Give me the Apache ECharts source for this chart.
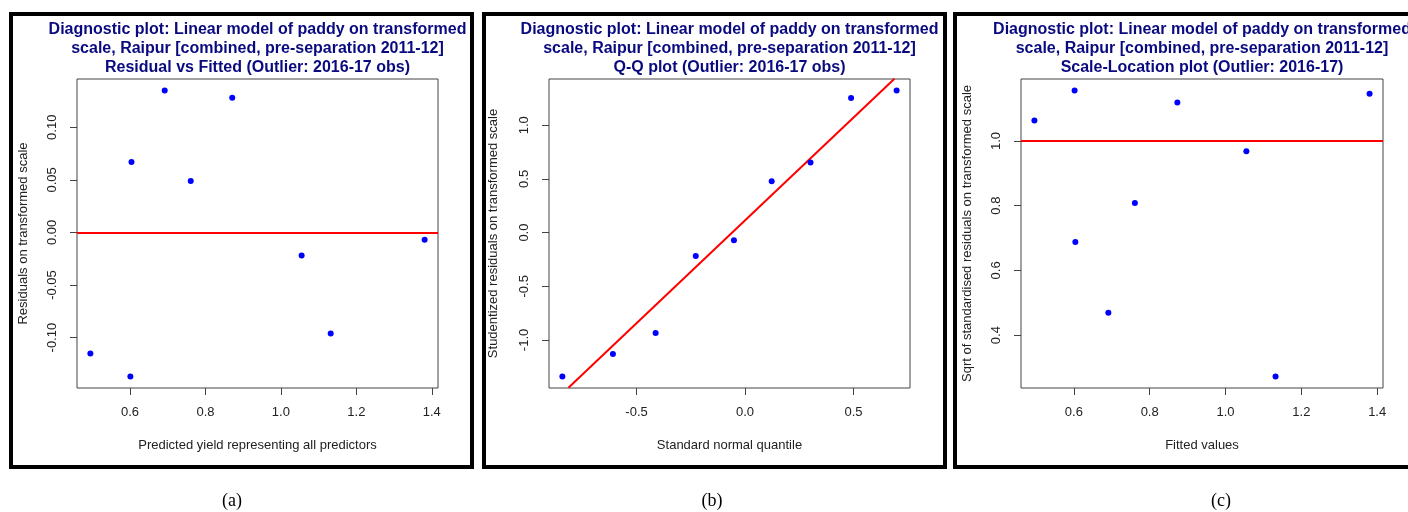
<!DOCTYPE html>
<html>
<head>
<meta charset="utf-8">
<script src="https://cdn.jsdelivr.net/npm/echarts@6/dist/echarts.min.js"></script>
<style>
  html, body { margin: 0; padding: 0; background: #fff; }
  #chart { width: 1408px; height: 512px; }
</style>
</head>
<body>
<div id="chart"></div>
<script>
// ---------- Data ----------
// (a) Residual vs Fitted
const fittedA   = [0.495, 0.604, 0.601, 0.692, 0.761, 0.871, 1.055, 1.132, 1.381];
const residualA = [-0.115, 0.067, -0.137, 0.135, 0.049, 0.128, -0.022, -0.096, -0.007];
// (b) Q-Q plot
const quantileB = [-0.842, -0.609, -0.412, -0.227, -0.051, 0.123, 0.302, 0.489, 0.699];
const studResB  = [-1.341, -1.130, -0.935, -0.217, -0.072, 0.479, 0.653, 1.253, 1.324];
const qqLineX   = [-0.814, 0.689];
const qqLineY   = [-1.446, 1.433];
// (c) Scale-Location
const fittedC   = [0.496, 0.604, 0.602, 0.691, 0.761, 0.873, 1.055, 1.132, 1.380];
const sqrtResC  = [1.063, 0.688, 1.156, 0.469, 0.808, 1.119, 0.968, 0.272, 1.146];
const refLineA  = 0;
const refLineC  = 1.0;

// Tick labels
const ticksAX = [0.6, 0.8, 1.0, 1.2, 1.4];
const ticksAY = [-0.10, -0.05, 0.00, 0.05, 0.10];
const ticksBX = [-0.5, 0.0, 0.5];
const ticksBY = [-1.0, -0.5, 0.0, 0.5, 1.0];
const ticksCX = [0.6, 0.8, 1.0, 1.2, 1.4];
const ticksCY = [0.4, 0.6, 0.8, 1.0];

// Texts
const titlesA = ['Diagnostic plot: Linear model of paddy on transformed',
                 'scale, Raipur [combined, pre-separation 2011-12]',
                 'Residual vs Fitted (Outlier: 2016-17 obs)'];
const titlesB = ['Diagnostic plot: Linear model of paddy on transformed',
                 'scale, Raipur [combined, pre-separation 2011-12]',
                 'Q-Q plot (Outlier: 2016-17 obs)'];
const titlesC = ['Diagnostic plot: Linear model of paddy on transformed',
                 'scale, Raipur [combined, pre-separation 2011-12]',
                 'Scale-Location plot (Outlier: 2016-17)'];
const xNames = ['Predicted yield representing all predictors', 'Standard normal quantile', 'Fitted values'];
const yNames = ['Residuals on transformed scale', 'Studentized residuals on transformed scale',
                'Sqrt of standardised residuals on transformed scale'];
const subLabels = ['(a)', '(b)', '(c)'];

// ---------- Build chart ----------
const FONT = 'Liberation Sans, Arial, sans-serif';
const TXT = '#222';
const zip = (xs, ys) => xs.map((x, i) => [x, ys[i]]);
// R-style axis range: data range extended by 4% each side
function rRange(arr) {
  const lo = Math.min(...arr), hi = Math.max(...arr);
  const d = (hi - lo) * 0.04;
  return [lo - d, hi + d];
}

const grids = [
  { left: 77,  top: 79, width: 361, height: 309 },
  { left: 549, top: 79, width: 361, height: 309 },
  { left: 1021, top: 79, width: 362, height: 309 }
];
const plotCenters = grids.map(g => g.left + g.width / 2);

function xAxis(gi, range, ticks, dec, name, gap) {
  return {
    type: 'value', gridIndex: gi, min: range[0], max: range[1], position: 'bottom',
    name: name, nameLocation: 'middle', nameGap: gap,
    nameTextStyle: { fontFamily: FONT, fontSize: 13, color: TXT },
    axisLine: { show: false, onZero: false },
    axisTick: { show: true, length: 7, customValues: ticks, lineStyle: { color: '#444', width: 1 } },
    axisLabel: { customValues: ticks, formatter: v => v.toFixed(dec), margin: 18,
                 fontFamily: FONT, fontSize: 13, color: TXT },
    splitLine: { show: false }
  };
}
function yAxis(gi, range, ticks, dec, name, gap) {
  return {
    type: 'value', gridIndex: gi, min: range[0], max: range[1], position: 'left',
    name: name, nameLocation: 'middle', nameGap: gap, nameRotate: 90,
    nameTextStyle: { fontFamily: FONT, fontSize: 13, color: TXT },
    axisLine: { show: false, onZero: false },
    axisTick: { show: true, length: 7, customValues: ticks, lineStyle: { color: '#444', width: 1 } },
    axisLabel: { customValues: ticks, formatter: v => v.toFixed(dec), margin: 18, rotate: 90,
                 fontFamily: FONT, fontSize: 13, color: TXT },
    splitLine: { show: false }
  };
}

const rangeAX = rRange(fittedA), rangeAY = rRange(residualA);
const rangeBX = rRange(quantileB), rangeBY = rRange(studResB);
const rangeCX = rRange(fittedC), rangeCY = rRange(sqrtResC);

const pointStyle = { type: 'scatter', symbol: 'circle', symbolSize: 6,
                     itemStyle: { color: '#0000FF', opacity: 1 }, z: 3 };
const redLine = { color: '#FF0000', width: 2, type: 'solid', opacity: 1 };

function titleGraphic(lines, cx) {
  return {
    type: 'text', x: cx, y: 20, z: 10,
    style: { text: lines.join('\n'), fill: '#0a0a80', align: 'center', verticalAlign: 'top',
             font: 'bold 16px ' + FONT, lineHeight: 19 }
  };
}
function panelBorder(x0, x1) {
  return { type: 'rect', z: 20, shape: { x: x0, y: 14, width: x1 - x0, height: 453 },
           style: { fill: 'none', stroke: '#000', lineWidth: 4 } };
}
function subLabel(t, cx) {
  return { type: 'text', x: cx, y: 501, z: 10,
           style: { text: t, fill: '#000', align: 'center', verticalAlign: 'middle',
                    font: '18px Liberation Serif, Times New Roman, serif' } };
}

const option = {
  animation: false,
  backgroundColor: '#fff',
  grid: grids.map(g => Object.assign({ show: true, borderColor: '#444', borderWidth: 1,
                                       backgroundColor: 'transparent' }, g)),
  xAxis: [
    xAxis(0, rangeAX, ticksAX, 1, xNames[0], 51),
    xAxis(1, rangeBX, ticksBX, 1, xNames[1], 51),
    xAxis(2, rangeCX, ticksCX, 1, xNames[2], 51)
  ],
  yAxis: [
    yAxis(0, rangeAY, ticksAY, 2, yNames[0], 47),
    yAxis(1, rangeBY, ticksBY, 1, yNames[1], 49),
    yAxis(2, rangeCY, ticksCY, 1, yNames[2], 47)
  ],
  series: [
    Object.assign({}, pointStyle, { xAxisIndex: 0, yAxisIndex: 0, data: zip(fittedA, residualA),
      markLine: { silent: true, symbol: ['none', 'none'], label: { show: false },
                  lineStyle: redLine, data: [{ yAxis: refLineA }] } }),
    { type: 'line', xAxisIndex: 1, yAxisIndex: 1, data: zip(qqLineX, qqLineY),
      showSymbol: false, symbol: 'none', lineStyle: redLine, z: 2 },
    Object.assign({}, pointStyle, { xAxisIndex: 1, yAxisIndex: 1, data: zip(quantileB, studResB) }),
    Object.assign({}, pointStyle, { xAxisIndex: 2, yAxisIndex: 2, data: zip(fittedC, sqrtResC),
      markLine: { silent: true, symbol: ['none', 'none'], label: { show: false },
                  lineStyle: redLine, data: [{ yAxis: refLineC }] } })
  ],
  graphic: [
    titleGraphic(titlesA, plotCenters[0]),
    titleGraphic(titlesB, plotCenters[1]),
    titleGraphic(titlesC, plotCenters[2]),
    panelBorder(11, 472),
    panelBorder(484, 945),
    panelBorder(955, 1420),
    subLabel(subLabels[0], 232),
    subLabel(subLabels[1], 712),
    subLabel(subLabels[2], 1221)
  ]
};

const chart = echarts.init(document.getElementById('chart'), null, { renderer: 'canvas' });
chart.setOption(option);
</script>
</body>
</html>
